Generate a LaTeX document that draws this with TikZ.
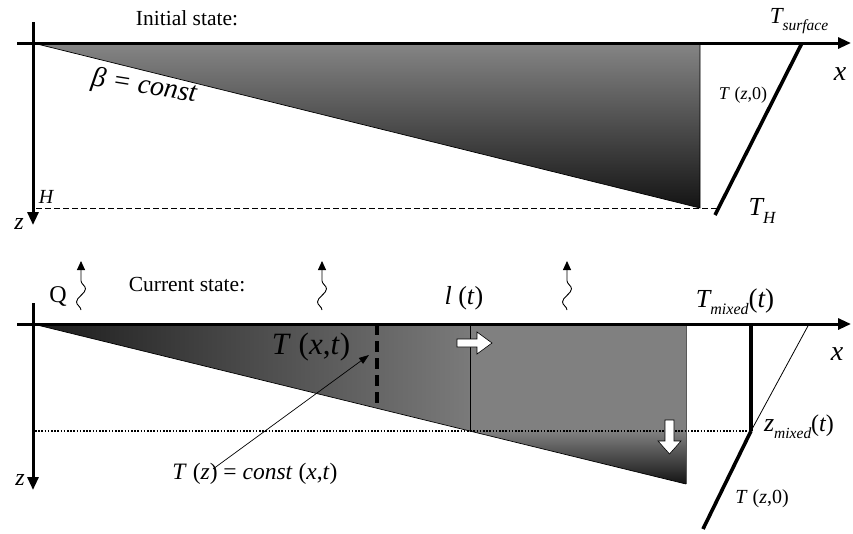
\documentclass[tikz,border=0pt]{standalone}
\usepackage{fontspec}
\setmainfont{Liberation Serif}
\usetikzlibrary{arrows.meta,decorations.pathmorphing}
\definecolor{gA}{HTML}{858585}
\definecolor{gB}{HTML}{141414}
\definecolor{gC}{HTML}{1C1C1C}
\definecolor{gD}{HTML}{7A7A7A}
\definecolor{gE}{HTML}{808080}
\newcommand\myfs[1]{\fontsize{#1}{#1}\selectfont}
\newcommand\mysub[2]{\raisebox{-0.28em}{\myfs{#1}\itshape #2}}
\tikzset{
  axis/.style={line width=3pt,-{Triangle[length=13pt,width=11pt]}},
  lbl/.style={inner sep=0pt,outer sep=0pt},
  wavy/.style={line width=0.9pt,-{Triangle[length=9pt,width=8pt]},
    decorate,decoration={snake,amplitude=4.5pt,segment length=26pt,post length=10pt}},
  blockarrow/.style={fill=white,draw=black,line width=0.6pt},
  thickline/.style={line width=3.6pt},
  edge/.style={line width=0.7pt}
}
\begin{document}
\begin{tikzpicture}[x=1pt,y=-1pt]
\useasboundingbox (0,0) rectangle (853,533);

% ---------- Initial state ----------
\shade[top color=gA,bottom color=gB] (33,43) -- (700,43) -- (700,208) -- cycle;
\draw[edge] (33,43) -- (700,208) -- (700,43);
\draw[line width=0.7pt,dash pattern=on 6pt off 3pt] (36,208) -- (717,208);
\draw[thickline] (715,215) -- (802,43);
\draw[axis] (17,43) -- (851,43);
\draw[axis] (33,22) -- (33,225);

\node[lbl] (init) at (187,18) {\myfs{21.5}Initial state:};
\node[lbl] (tsurf) at (799,21) {\myfs{23}\itshape T\mysub{15.5}{surface}};
\node[lbl] (xa) at (840,74) {\myfs{28}\itshape x};
\node[lbl] (tz0a) at (743,95) {\myfs{18}\textit{T} (\textit{z},0)};
\node[lbl] (th) at (762,211) {\myfs{26}\itshape T\mysub{17}{H}};
\node[lbl] (hl) at (46,197) {\myfs{20}\itshape H};
\node[lbl] (za) at (19,224) {\myfs{24}\itshape z};
\node[lbl,rotate=-9] (beta) at (144,87) {\myfs{28}\itshape β = const};

% ---------- Current state ----------
\shade[left color=gC,right color=gD] (33,324) -- (470,324) -- (470,431) -- cycle;
\fill[gE] (470,324) rectangle (686,431);
\shade[top color=gE,bottom color=gB] (470,431) -- (686,431) -- (686,484) -- cycle;
\draw[edge] (33,324) -- (686,484);
\draw[line width=0.7pt,draw=black!65] (686,484) -- (686,324);
\draw[edge] (470,324) -- (470,431);
\draw[line width=4pt,dash pattern=on 11pt off 6pt] (377,324) -- (377,409);
\draw[line width=1.6pt,dash pattern=on 1.6pt off 1.6pt] (35,431) -- (751,431);
\draw[line width=4pt] (751,324) -- (751,431);
\draw[line width=0.8pt] (751,431) -- (809,324);
\draw[thickline] (751,431) -- (703,529);
\draw[axis] (17,324) -- (851,324);
\draw[axis] (33,303) -- (33,490);

% white block arrows
\draw[blockarrow] (457,339) -- (477,339) -- (477,332) -- (492,343) -- (477,354) -- (477,347) -- (457,347) -- cycle;
\draw[blockarrow] (665,420) -- (674,420) -- (674,441) -- (681,441) -- (669.5,454) -- (658,441) -- (665,441) -- cycle;

% heat flux arrows
\draw[wavy] (81,310) -- (81,261);
\draw[wavy] (322,310) -- (322,261);
\draw[wavy] (567,310) -- (567,261);

\node[lbl] (q) at (58,296) {\myfs{24}Q};
\node[lbl] (curr) at (187,285) {\myfs{21.5}Current state:};
\node[lbl] (lt) at (464,298) {\myfs{26}\textit{l} (\textit{t})};
\node[lbl] (tmix) at (735,302) {\myfs{26}\itshape T\mysub{16}{mixed}\myfs{27}\upshape(\itshape t\upshape)};
\node[lbl] (xb) at (837,354) {\myfs{28}\itshape x};
\node[lbl] (txt) at (311,347) {\myfs{31}\textit{T} (\textit{x},\textit{t})};
\node[lbl] (zmix) at (799,427) {\myfs{26}\itshape z\mysub{15.5}{mixed}\myfs{24}\upshape(\itshape t\upshape)};
\node[lbl] (tz0b) at (762,499) {\myfs{20}\textit{T} (\textit{z},0)};
\node[lbl] (tconst) at (255,474) {\myfs{23.5}\textit{T} (\textit{z}) = \textit{const} (\textit{x},\textit{t})};
\node[lbl] (zb) at (20,480) {\myfs{24}\itshape z};

\coordinate (annstart) at (213,469);
\coordinate (anntip) at (369,355);
\draw[line width=0.7pt,-{Triangle[length=10pt,width=7pt]}] (annstart) -- (anntip);
\end{tikzpicture}
\end{document}
